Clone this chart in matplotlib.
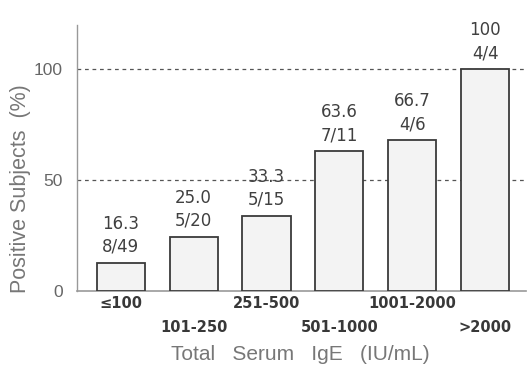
import matplotlib
matplotlib.use("Agg")
import matplotlib.pyplot as plt
import numpy as np

plt.rcParams['font.family'] = ['Liberation Sans', 'DejaVu Sans']

categories = ['≤100', '101-250', '251-500', '501-1000', '1001-2000', '>2000']
heights = [12.7, 24.4, 33.9, 63.0, 68.0, 100.0]
pct_labels = ['16.3', '25.0', '33.3', '63.6', '66.7', '100']
frac_labels = ['8/49', '5/20', '5/15', '7/11', '4/6', '4/4']
yticks = [0, 50, 100]

fig = plt.figure(figsize=(5.32, 3.69), dpi=100)
ax = fig.add_axes([0.1447, 0.2114, 0.844, 0.721])
x = np.arange(len(categories))
ax.bar(x, heights, width=0.66, color='#f3f3f3', edgecolor='#3a3a3a', linewidth=1.3, zorder=3)

PX = 0.72  # points per pixel at 100 dpi
for xi, h, p, f in zip(x, heights, pct_labels, frac_labels):
    ax.annotate(f, (xi, h), xytext=(0, 16 * PX), textcoords='offset points',
                ha='center', va='center', fontsize=12, color='#404040',
                family='DejaVu Sans', zorder=4)
    ax.annotate(p, (xi, h), xytext=(0, 39 * PX), textcoords='offset points',
                ha='center', va='center', fontsize=12, color='#404040',
                family='DejaVu Sans', zorder=4)

for yv in [50, 100]:
    ax.axhline(yv, color='#555555', linestyle=(0, (3, 3)), linewidth=0.9, zorder=2)

ax.set_xlim(-0.6, 5.56)
ax.set_ylim(0, 120)
ax.set_yticks(yticks)
ax.set_yticklabels([str(v) for v in yticks], fontsize=12.5, color='#666666')
ax.tick_params(axis='y', length=0, pad=10)
ax.set_xticks(x)
ax.set_xticklabels([])
ax.tick_params(axis='x', length=0)
for i, c in enumerate(categories):
    row = 0 if i % 2 == 0 else 1
    ax.annotate(c, (x[i], 0), xytext=(0, -(13 + 24 * row) * PX), textcoords='offset points',
                ha='center', va='center', fontsize=10.5, color='#383838', fontweight='bold',
                family='DejaVu Sans', annotation_clip=False)

fig.text(0.564, 0.038, 'Total   Serum   IgE   (IU/mL)', fontsize=15, color='#777777',
         ha='center', va='center')
fig.text(0.038, 0.49, 'Positive Subjects  (%)', fontsize=15.5, color='#777777',
         ha='center', va='center', rotation=90)

for s in ['top', 'right']:
    ax.spines[s].set_visible(False)
ax.spines['left'].set_color('#999999')
ax.spines['bottom'].set_color('#999999')
ax.spines['left'].set_linewidth(1.0)
ax.spines['bottom'].set_linewidth(1.2)

fig.savefig('out.png', dpi=100)
